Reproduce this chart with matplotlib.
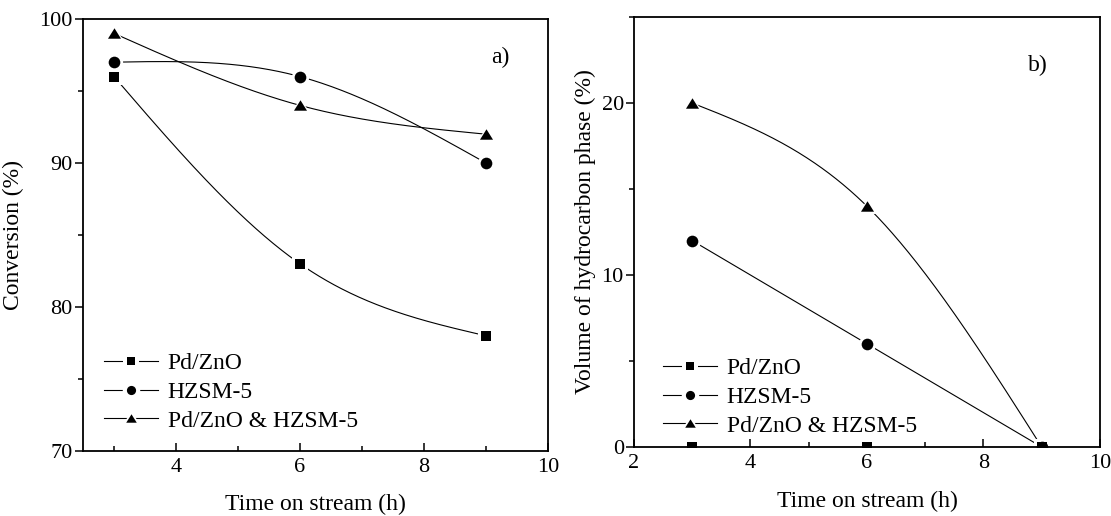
import numpy as np
import matplotlib
matplotlib.use("Agg")
import matplotlib.pyplot as plt
from matplotlib.ticker import MultipleLocator
from matplotlib.lines import Line2D
from matplotlib.legend_handler import HandlerTuple

plt.rcParams["font.family"] = ["Liberation Serif", "DejaVu Serif"]
plt.rcParams["mathtext.fontset"] = "stix"

# Time on stream (h)
time_h = [3, 6, 9]
series_names = ["Pd/ZnO", "HZSM-5", "Pd/ZnO & HZSM-5"]

# a) conversion (%)
conv_pdzno = [96, 83, 78]
conv_hzsm5 = [97, 96, 90]
conv_mixed = [99, 94, 92]

# b) volume of hydrocarbon phase (%)
vol_pdzno = [0, 0, 0]
vol_hzsm5 = [12, 6, 0]
vol_mixed = [20, 14, 0]

# flattened triangle like the usual Origin symbol
tri = [(0, 0.8), (-1, -0.8), (1, -0.8), (0, 0.8)]
markers = ["s", "o", tri]
marker_sizes = [7.4, 8.4, 9.4]
legend_sizes = [6.0, 6.6, 7.6]
HALO = 4.0


def natural_spline(x, y, num=300):
    """Natural cubic spline through the points, used for the connecting curve."""
    x = np.asarray(x, float)
    y = np.asarray(y, float)
    n = len(x)
    h = np.diff(x)
    A = np.zeros((n, n))
    b = np.zeros(n)
    A[0, 0] = A[-1, -1] = 1.0
    for i in range(1, n - 1):
        A[i, i - 1] = h[i - 1]
        A[i, i] = 2 * (h[i - 1] + h[i])
        A[i, i + 1] = h[i]
        b[i] = 6 * ((y[i + 1] - y[i]) / h[i] - (y[i] - y[i - 1]) / h[i - 1])
    M = np.linalg.solve(A, b)
    xs = np.linspace(x[0], x[-1], num)
    idx = np.clip(np.searchsorted(x, xs) - 1, 0, n - 2)
    x0, x1 = x[idx], x[idx + 1]
    hh = x1 - x0
    a = (x1 - xs) / hh
    bb = (xs - x0) / hh
    ys = (a * y[idx] + bb * y[idx + 1]
          + ((a ** 3 - a) * M[idx] + (bb ** 3 - bb) * M[idx + 1]) * hh ** 2 / 6)
    return xs, ys


def draw_series(ax, x, y, marker, ms):
    xs, ys = natural_spline(x, y)
    ax.plot(xs, ys, color="black", lw=0.8, zorder=2)
    # white halo leaves a small gap between curve and symbol
    ax.plot(x, y, ls="none", marker=marker, ms=ms + HALO, color="white",
            mec="white", mew=0, zorder=2.1)
    ax.plot(x, y, ls="none", marker=marker, ms=ms, color="black",
            mec="black", mew=0.0, zorder=2.2)


def legend_handles():
    handles = []
    for m, ms in zip(markers, legend_sizes):
        line = Line2D([], [], color="black", lw=0.8)
        halo = Line2D([], [], ls="none", marker=m, ms=ms + 6.0, color="white", mew=0)
        sym = Line2D([], [], ls="none", marker=m, ms=ms, color="black", mew=0)
        handles.append((line, halo, sym))
    return handles


def style_axes(ax):
    for sp in ax.spines.values():
        sp.set_linewidth(1.3)
    ax.tick_params(axis="x", which="both", direction="in", top=False,
                   labelsize=16, pad=5, width=1.1)
    ax.tick_params(axis="x", which="major", length=6)
    ax.tick_params(axis="x", which="minor", length=3.6)
    ax.tick_params(axis="y", which="both", direction="out", right=False,
                   labelsize=16, pad=1.5, width=1.1)
    ax.tick_params(axis="y", which="major", length=5.8)
    ax.tick_params(axis="y", which="minor", length=3.6)


fig = plt.figure(figsize=(11.11, 5.16), dpi=100)
ax1 = fig.add_axes([0.0747, 0.1260, 0.4185, 0.8372])
ax2 = fig.add_axes([0.5706, 0.1337, 0.4195, 0.8333])

# a) conversion
for y, m, ms in zip([conv_pdzno, conv_hzsm5, conv_mixed], markers, marker_sizes):
    draw_series(ax1, time_h, y, m, ms)
ax1.set_xlim(2.5, 10)
ax1.set_ylim(70, 100)
ax1.xaxis.set_major_locator(MultipleLocator(2))
ax1.xaxis.set_minor_locator(MultipleLocator(1))
ax1.yaxis.set_major_locator(MultipleLocator(10))
ax1.yaxis.set_minor_locator(MultipleLocator(5))
style_axes(ax1)
ax1.set_xlabel("Time on stream (h)", fontsize=17, labelpad=12)
ax1.set_ylabel("Conversion (%)", fontsize=17, labelpad=11)
ax1.text(0.897, 0.912, "a)", transform=ax1.transAxes, fontsize=17,
         ha="center", va="center")
ax1.legend(legend_handles(), series_names, handler_map={tuple: HandlerTuple(ndivide=1)},
           loc="lower left", bbox_to_anchor=(0.045, 0.045), frameon=False,
           fontsize=17, handlelength=2.3, handletextpad=0.4, labelspacing=0.3,
           borderpad=0.0, borderaxespad=0.0)

# b) volume of hydrocarbon phase
for y, m, ms in zip([vol_pdzno, vol_hzsm5, vol_mixed], markers, marker_sizes):
    draw_series(ax2, time_h, y, m, ms)
ax2.set_xlim(2, 10)
ax2.set_ylim(0, 25)
ax2.xaxis.set_major_locator(MultipleLocator(2))
ax2.xaxis.set_minor_locator(MultipleLocator(1))
ax2.yaxis.set_major_locator(MultipleLocator(10))
ax2.yaxis.set_minor_locator(MultipleLocator(5))
style_axes(ax2)
ax2.set_xlabel("Time on stream (h)", fontsize=17, labelpad=13)
ax2.set_ylabel("Volume of hydrocarbon phase (%)", fontsize=17, labelpad=4)
ax2.text(0.867, 0.888, "b)", transform=ax2.transAxes, fontsize=17,
         ha="center", va="center")
ax2.legend(legend_handles(), series_names, handler_map={tuple: HandlerTuple(ndivide=1)},
           loc="lower left", bbox_to_anchor=(0.062, 0.024), frameon=False,
           fontsize=17, handlelength=2.3, handletextpad=0.4, labelspacing=0.3,
           borderpad=0.0, borderaxespad=0.0)

fig.savefig("out.png", dpi=100)
